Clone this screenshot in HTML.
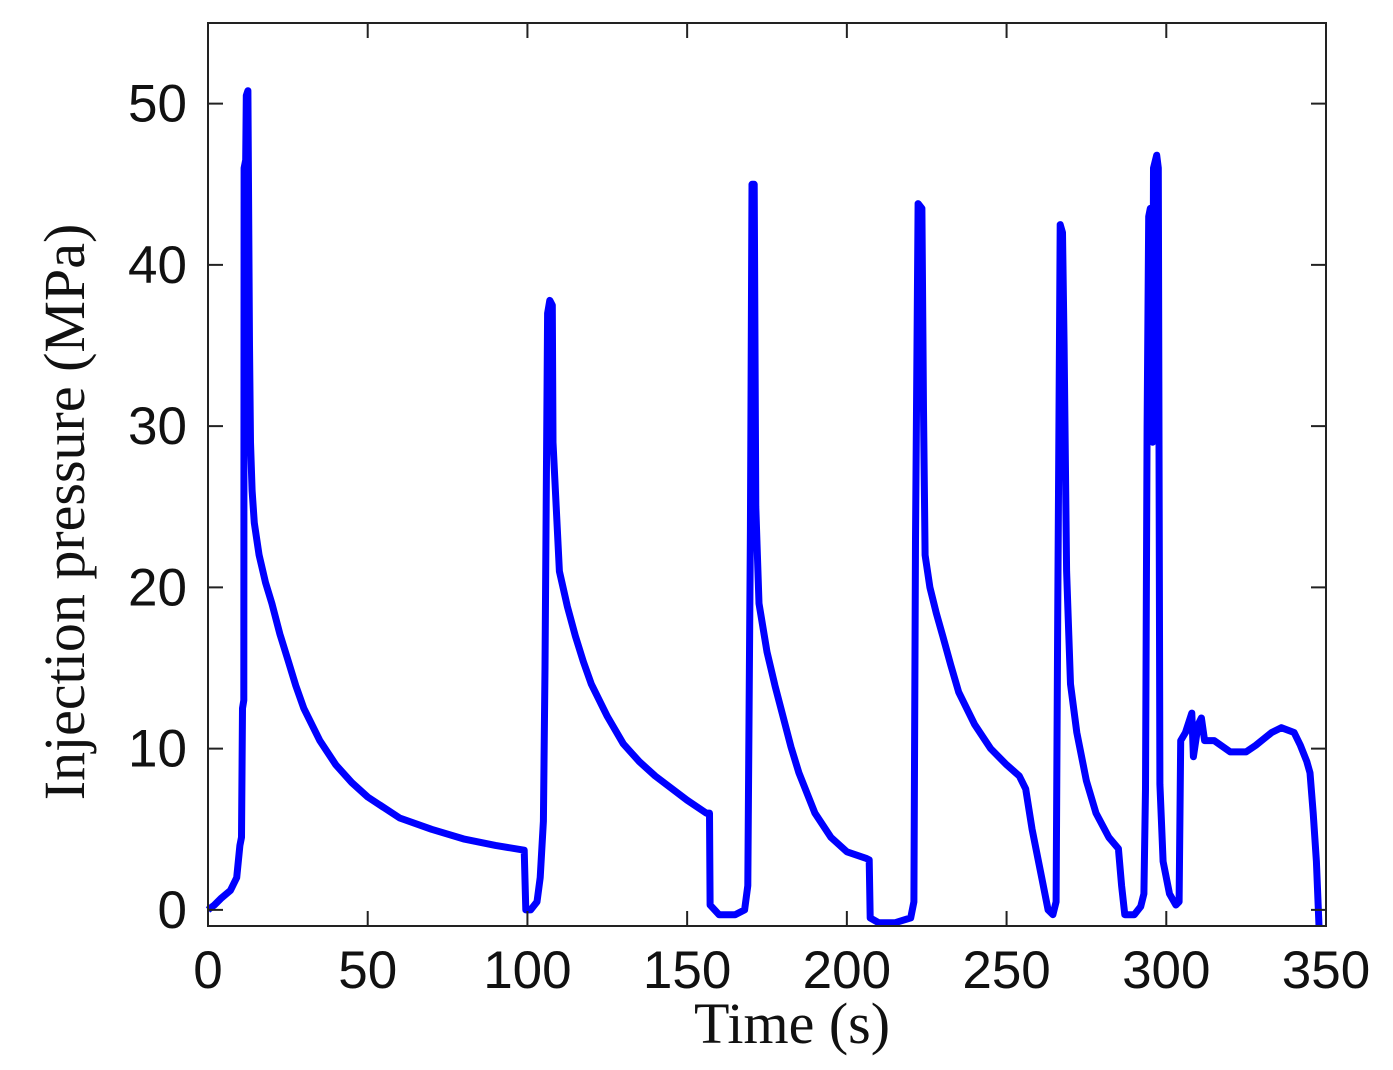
<!DOCTYPE html>
<html><head><meta charset="utf-8"><style>
html,body{margin:0;padding:0;background:#fff;}
svg{display:block;}
</style></head><body>
<svg width="1393" height="1070" xmlns="http://www.w3.org/2000/svg">
<g id="plot"></g>
</svg>
<script>
const times=[0,2,4,7,9,10,10.5,10.8,11.2,11.3,11.8,12,12.5,13,13.3,13.8,14.5,16,18,20,22.5,25,27.5,30,35,40,45,50,60,70,80,90,99,99.5,101,103,104,105,105.5,106.3,107,107.8,108,109,110,112.5,115,117.5,120,125,130,135,140,150,156,157,157.2,160,165,168,169,169.8,170.3,171,171.5,172.5,175,177.5,180,182.5,185,190,195,200,206,207,207.3,210,215,220,221,221.5,222.3,223.5,224,224.5,226,228,230,232.5,235,240,245,250,254,256,258,261,263,264.5,265.5,266,266.8,267.5,268,268.8,270,272,275,278,282,285,286,287,290,292,293,293.5,294,294.5,295,295.7,296,297,297.5,298,299,301,303,304,304.5,306,308,308.5,310,311,312,315,320,325,328,333,336,340,342,344,345,346,347,347.8];
const pressures=[0,0.3,0.7,1.2,2,4,4.5,12.5,13,46,46.5,50.5,50.8,35,29,26,24,22,20.3,19,17.1,15.5,13.9,12.5,10.5,9,7.9,7,5.7,5,4.4,4,3.7,0,0,0.5,2,5.5,15,37,37.8,37.5,29,25,21,18.8,17,15.4,14,12,10.3,9.2,8.3,6.8,6,6,0.3,-0.3,-0.3,0,1.5,23.5,45,45,25,19,16,13.9,12,10.1,8.5,6,4.5,3.6,3.2,3.1,-0.5,-0.8,-0.8,-0.5,0.5,23,43.8,43.5,31,22,20,18.4,17,15.2,13.5,11.5,10,9,8.3,7.5,5,2,0,-0.3,0.5,18,42.5,42,35,21,14,11,8,6,4.5,3.8,1.5,-0.3,-0.3,0.2,1,7.5,30,43,43.5,29,46,46.8,46,7.8,3,1,0.3,0.5,10.5,11,12.2,9.5,11.5,11.9,10.5,10.5,9.8,9.8,10.2,11,11.3,11,10.2,9.2,8.5,6,3,-1];
const xTicks=[0,50,100,150,200,250,300,350];
const yTicks=[0,10,20,30,40,50];
const X0=208,X1=1326,Y0=926,Y1=23,xmin=0,xmax=350,ymin=-1,ymax=55;
const NS="http://www.w3.org/2000/svg";
const xs=v=>X0+(v-xmin)/(xmax-xmin)*(X1-X0);
const ys=v=>Y0-(v-ymin)/(ymax-ymin)*(Y0-Y1);
const g=document.getElementById('plot');
function mk(tag,attrs){const e=document.createElementNS(NS,tag);for(const k in attrs)e.setAttribute(k,attrs[k]);g.appendChild(e);return e;}
let d='';
times.forEach((t,i)=>{d+=(i?'L':'M')+xs(t).toFixed(1)+','+ys(pressures[i]).toFixed(1);});
const line=mk('path',{d:d,fill:'none',stroke:'#0000ff','stroke-width':7,'stroke-linejoin':'round'});


const frame=mk('rect',{x:X0,y:Y1,width:X1-X0,height:Y0-Y1,fill:'none',stroke:'#222','stroke-width':2});


xTicks.forEach(v=>{
  const x=xs(v);
  mk('line',{x1:x,y1:Y0,x2:x,y2:Y0-15,stroke:'#222','stroke-width':2});
  mk('line',{x1:x,y1:Y1,x2:x,y2:Y1+15,stroke:'#222','stroke-width':2});
  const t=mk('text',{x:x,y:988,'text-anchor':'middle','font-family':'Liberation Sans, sans-serif','font-size':53,fill:'#111'});
  t.textContent=v;
  
  
});
yTicks.forEach(v=>{
  const y=ys(v);
  mk('line',{x1:X0,y1:y,x2:X0+15,y2:y,stroke:'#222','stroke-width':2});
  mk('line',{x1:X1,y1:y,x2:X1-15,y2:y,stroke:'#222','stroke-width':2});
  const t=mk('text',{x:187,y:y+18,'text-anchor':'end','font-family':'Liberation Sans, sans-serif','font-size':53,fill:'#111'});
  t.textContent=v;
  
  
});
const xt=mk('text',{x:792,y:1043,'text-anchor':'middle','font-family':'Liberation Serif, serif','font-size':58,fill:'#111'});
xt.textContent='Time (s)';


const yt=mk('text',{x:0,y:0,transform:'translate(84,512) rotate(-90)','text-anchor':'middle','font-family':'Liberation Serif, serif','font-size':58,fill:'#111'});
yt.textContent='Injection pressure (MPa)';


</script>
</body></html>
